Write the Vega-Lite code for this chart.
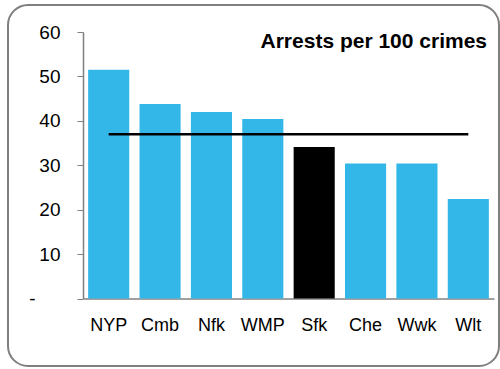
{
  "$schema": "https://vega.github.io/schema/vega-lite/v6.json",
  "width": 491,
  "height": 361,
  "autosize": {"type": "none"},
  "padding": {"left": 8, "top": 5, "right": 1, "bottom": 3},
  "background": "white",
  "config": {
    "view": {"stroke": "#7f7f7f", "strokeWidth": 2, "cornerRadius": 20, "fill": "white"},
    "font": "Liberation Sans"
  },
  "title": {
    "text": "Arrests per 100 crimes",
    "anchor": "end",
    "frame": "group",
    "orient": "top",
    "offset": -64.4,
    "baseline": "alphabetic",
    "dx": -12,
    "fontSize": 21,
    "fontWeight": "bold",
    "color": "#000000",
    "font": "Liberation Sans"
  },
  "data": {
    "values": [
      {"region": "NYP", "rate": 51.5, "average": 37.0, "group": "other"},
      {"region": "Cmb", "rate": 43.8, "average": 37.0, "group": "other"},
      {"region": "Nfk", "rate": 42.0, "average": 37.0, "group": "other"},
      {"region": "WMP", "rate": 40.4, "average": 37.0, "group": "other"},
      {"region": "Sfk", "rate": 34.1, "average": 37.0, "group": "Suffolk"},
      {"region": "Che", "rate": 30.4, "average": 37.0, "group": "other"},
      {"region": "Wwk", "rate": 30.4, "average": 37.0, "group": "other"},
      {"region": "Wlt", "rate": 22.4, "average": 37.0, "group": "other"}
    ]
  },
  "encoding": {
    "x": {
      "field": "region",
      "type": "nominal",
      "sort": null,
      "scale": {"range": [75, 486], "paddingInner": 0.2, "paddingOuter": 0.1},
      "axis": {
        "title": null,
        "orient": "bottom",
        "offset": -67.5,
        "ticks": false,
        "labelAngle": 0,
        "labelPadding": 18,
        "labelFontSize": 18,
        "labelColor": "#000000",
        "labelFont": "Liberation Sans",
        "domainColor": "#808080",
        "domainWidth": 1.5
      }
    }
  },
  "layer": [
    {
      "mark": {"type": "bar"},
      "encoding": {
        "y": {
          "field": "rate",
          "type": "quantitative",
          "scale": {"domain": [0, 60], "range": [293.5, 27], "nice": false},
          "axis": {
            "title": null,
            "offset": -75,
            "values": [0, 10, 20, 30, 40, 50, 60],
            "grid": false,
            "tickSize": 6,
            "tickColor": "#808080",
            "domainColor": "#808080",
            "domainWidth": 1.5,
            "labelPadding": {"condition": {"test": "datum.value == 0", "value": 42}, "value": 17},
            "labelFontSize": 19,
            "labelColor": "#000000",
            "labelFont": "Liberation Sans",
            "labelExpr": "datum.value == 0 ? '-' : datum.label"
          }
        },
        "color": {
          "field": "group",
          "type": "nominal",
          "scale": {"domain": ["other", "Suffolk"], "range": ["#32b7e8", "#000000"]},
          "legend": null
        }
      }
    },
    {
      "mark": {"type": "line", "color": "#000000", "strokeWidth": 2.5},
      "encoding": {
        "y": {"field": "average", "type": "quantitative"}
      }
    }
  ]
}
